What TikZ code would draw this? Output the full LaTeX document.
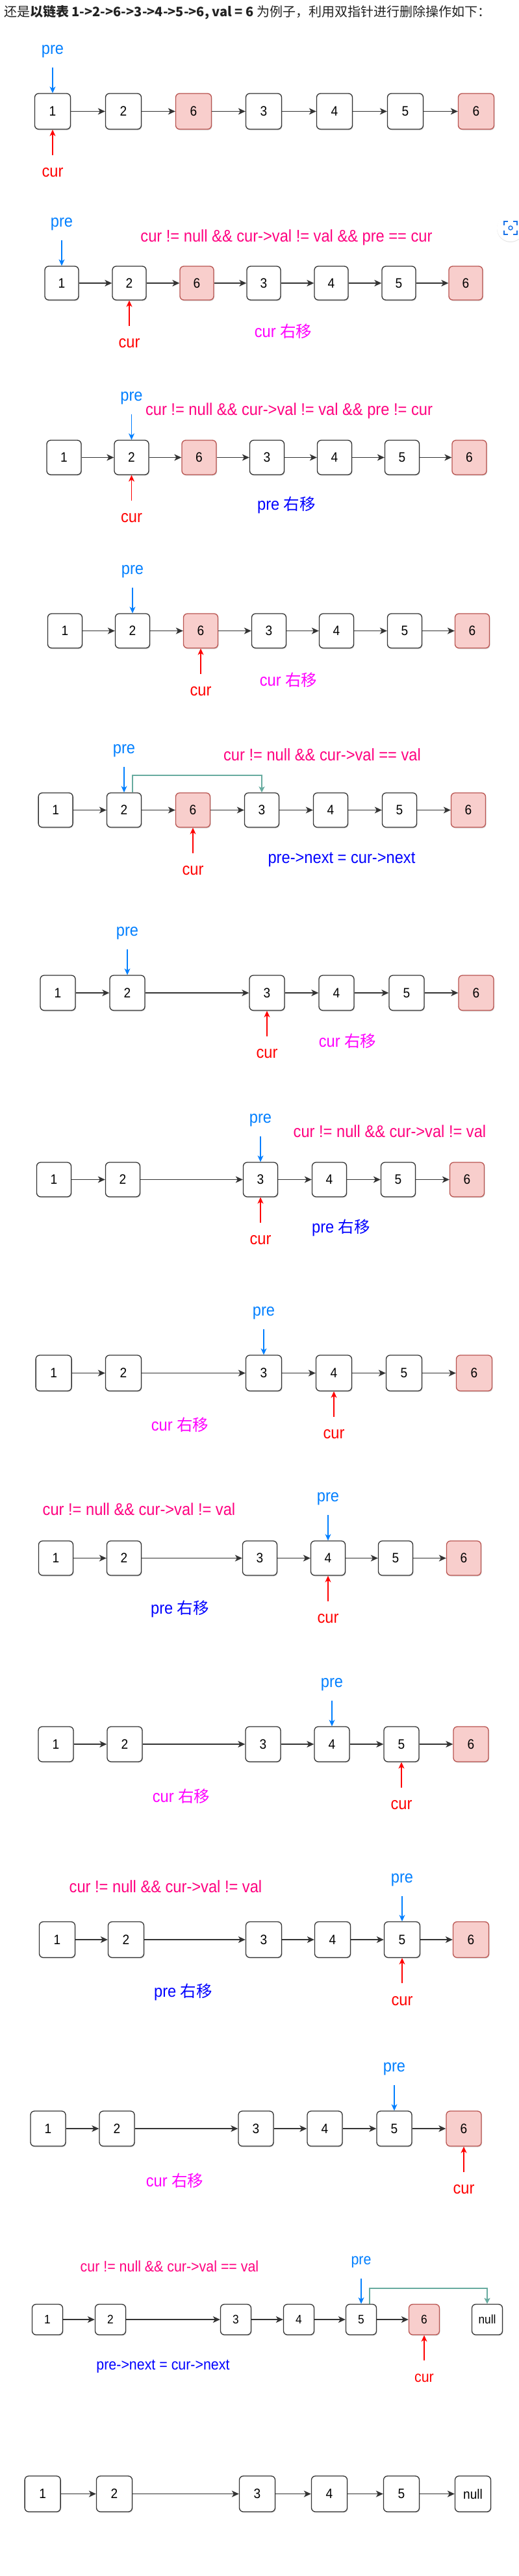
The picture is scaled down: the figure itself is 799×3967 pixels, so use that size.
\documentclass[tikz,border=0pt]{standalone}
\usepackage{fontspec}
\newfontfamily\labf{Liberation Sans}[FakeStretch=0.91]
\newfontfamily\cjk{Noto Sans CJK SC}
\usetikzlibrary{arrows.meta,shadows,calc}
\definecolor{preblue}{HTML}{007FFF}
\definecolor{curred}{HTML}{FF0000}
\definecolor{condc}{HTML}{FF0080}
\definecolor{mag}{HTML}{FF00FF}
\definecolor{pblue}{HTML}{0000FF}
\definecolor{rfill}{HTML}{F8CECC}
\definecolor{rdraw}{HTML}{B85450}
\definecolor{gline}{HTML}{67AB9F}
\definecolor{edgec}{HTML}{333333}
\definecolor{boxd}{HTML}{333333}
\definecolor{hdrc}{HTML}{222222}
\definecolor{scanc}{HTML}{1A73E8}
\newcommand\lf{\labf\fontsize{26}{30}\selectfont}
\newcommand\lfs{\labf\fontsize{23.5}{27}\selectfont}
\newcommand\nf{\labf\fontsize{21}{24}\selectfont}
\newcommand\nfs{\labf\fontsize{19}{22}\selectfont}
\newcommand\cj[1]{{\cjk\fontsize{24.5}{28}\selectfont #1}}
\newcommand\hdrf{\cjk\fontsize{20}{24}\selectfont}
\def\bs{55}
\def\nfnt{\nf}
\tikzset{
  nbox/.style={draw=boxd, fill=white, line width=1.3pt, rounded corners=6pt,
    minimum width=\bs pt, minimum height=\bs pt, inner sep=0pt, font=\nfnt, text=black,
    drop shadow={shadow xshift=1pt, shadow yshift=-1.5pt, opacity=0.25, fill=black!60}},
  rbox/.style={nbox, draw=rdraw, fill=rfill},
  link/.style={draw=edgec, line width=1.5pt, -{Stealth[length=11pt,width=10pt,inset=3pt]}},
  prearr/.style={draw=preblue, line width=1.1pt, -{Stealth[length=10pt,width=9pt,inset=3pt]}},
  curarr/.style={draw=curred, line width=1.1pt, -{Stealth[length=10pt,width=9pt,inset=3pt]}},
  gconn/.style={draw=gline, line width=1.8pt, -{Stealth[length=9pt,width=9pt,inset=2pt]}},
  prelab/.style={text=preblue, font=\lf, inner sep=0pt},
  curlab/.style={text=curred, font=\lf, inner sep=0pt},
  cond/.style={text=condc, font=\lf, inner sep=0pt},
  mvcur/.style={text=mag, font=\lf, inner sep=0pt},
  mvpre/.style={text=pblue, font=\lf, inner sep=0pt},
}
\newcommand\mkrow[4]{%
  \foreach \i/\x/\lab/\sty in {#3} {\node[\sty] (#1n\i) at (\x,#2) {\lab};}
  \foreach \a/\b in {#4} {\draw[link] (#1n\a) -- (#1n\b);}
}
\newcommand\prep[3][]{%
  \coordinate (#2ps) at ([yshift=39pt]#2n#3.north);
  \node[prelab,#1] (#2pre) at ([yshift=25pt]#2ps) {pre};
  \draw[prearr] (#2ps) -- (#2n#3.north);
}
\newcommand\curp[3][]{%
  \coordinate (#2cs) at ([yshift=-39pt]#2n#3.south);
  \node[curlab,#1] (#2cur) at ([yshift=-27pt]#2cs) {cur};
  \draw[curarr] (#2cs) -- (#2n#3.south);
}
\begin{document}
\begin{tikzpicture}[x=1pt,y=-1pt]
\useasboundingbox (0,0) rectangle (799,3967);
\fill[white] (0,0) rectangle (799,3967);

\node[anchor=west, inner sep=0pt, font=\hdrf, text=hdrc] (hdr) at (6,19)
  {还是\textbf{以链表 1->2->6->3->4->5->6, val = 6} 为例子，利用双指针进行删除操作如下：};

% scan icon overlay
\node[circle, fill=white, minimum size=42pt, inner sep=0pt,
  drop shadow={shadow xshift=0pt, shadow yshift=-1pt, opacity=0.12, fill=black}] (scan) at (786,351) {};
\draw[scanc, line width=1.6pt] ([xshift=-10pt,yshift=4pt]scan.center) |- ([xshift=-4pt,yshift=10pt]scan.center);
\draw[scanc, line width=1.6pt] ([xshift=4pt,yshift=10pt]scan.center) -| ([xshift=10pt,yshift=4pt]scan.center);
\draw[scanc, line width=1.6pt] ([xshift=-10pt,yshift=-4pt]scan.center) |- ([xshift=-4pt,yshift=-10pt]scan.center);
\draw[scanc, line width=1.6pt] ([xshift=4pt,yshift=-10pt]scan.center) -| ([xshift=10pt,yshift=-4pt]scan.center);
\draw[scanc, line width=1.4pt] (scan.center) circle (3pt);

% Row 1
\def\bs{55}
\mkrow{r1}{171.5}{1/81/1/nbox,2/190/2/nbox,3/298/6/rbox,4/406/3/nbox,5/515/4/nbox,6/624/5/nbox,7/733/6/rbox}{1/2,2/3,3/4,4/5,5/6,6/7}
\prep{r1}{1}
\curp{r1}{1}

% Row 2
\def\bs{52}
\mkrow{r2}{436}{1/95/1/nbox,2/199/2/nbox,3/303/6/rbox,4/406/3/nbox,5/510/4/nbox,6/614/5/nbox,7/717/6/rbox}{1/2,2/3,3/4,4/5,5/6,6/7}
\prep{r2}{1}
\curp{r2}{2}
\node[cond] (r2cond) at (441,366) {cur != null \&\& cur->val != val \&\& pre == cur};
\node[mvcur] (r2mv) at (436,510) {cur \cj{右移}};

% Row 3
\def\bs{53}
\mkrow{r3}{704.5}{1/98.5/1/nbox,2/202.5/2/nbox,3/306.5/6/rbox,4/411/3/nbox,5/515/4/nbox,6/619/5/nbox,7/722.5/6/rbox}{1/2,2/3,3/4,4/5,5/6,6/7}
\prep{r3}{2}
\curp{r3}{2}
\node[cond] (r3cond) at (445,633) {cur != null \&\& cur->val != val \&\& pre != cur};
\node[mvpre] (r3mv) at (441,778) {pre \cj{右移}};

% Row 4
\def\bs{53}
\mkrow{r4}{971.5}{1/100/1/nbox,2/204/2/nbox,3/309/6/rbox,4/414/3/nbox,5/518/4/nbox,6/623/5/nbox,7/727/6/rbox}{1/2,2/3,3/4,4/5,5/6,6/7}
\prep{r4}{2}
\curp{r4}{3}
\node[mvcur] (r4mv) at (444,1047) {cur \cj{右移}};

% Row 5
\def\bs{53}
\mkrow{r5}{1247.5}{1/85.6/1/nbox,2/191/2/nbox,3/297/6/rbox,4/403/3/nbox,5/509/4/nbox,6/615/5/nbox,7/721/6/rbox}{1/2,2/3,3/4,4/5,5/6,6/7}
\prep{r5}{2}
\curp{r5}{3}
\node[cond] (r5cond) at (496,1162) {cur != null \&\& cur->val == val};
\draw[gconn] ([xshift=13pt]r5n2.north) |- ([yshift=26pt]r5n4.north) -- (r5n4.north);
\node[mvpre] (r5mv) at (526,1324) {pre->next = cur->next};

% Row 6
\def\bs{54}
\mkrow{r6}{1529}{1/89/1/nbox,2/196/2/nbox,4/411/3/nbox,5/518/4/nbox,6/626/5/nbox,7/733/6/rbox}{1/2,2/4,4/5,5/6,6/7}
\prep{r6}{2}
\curp{r6}{4}
\node[mvcur] (r6mv) at (535,1603) {cur \cj{右移}};

% Row 7
\def\bs{53}
\mkrow{r7}{1816.5}{1/83/1/nbox,2/189/2/nbox,4/401/3/nbox,5/507/4/nbox,6/613/5/nbox,7/719/6/rbox}{1/2,2/4,4/5,5/6,6/7}
\prep{r7}{4}
\curp{r7}{4}
\node[cond] (r7cond) at (600,1742) {cur != null \&\& cur->val != val};
\node[mvpre] (r7mv) at (525,1891) {pre \cj{右移}};

% Row 8
\def\bs{55}
\mkrow{r8}{2114.5}{1/82.6/1/nbox,2/190/2/nbox,4/406/3/nbox,5/514/4/nbox,6/622/5/nbox,7/730/6/rbox}{1/2,2/4,4/5,5/6,6/7}
\prep{r8}{4}
\curp{r8}{5}
\node[mvcur] (r8mv) at (277,2194) {cur \cj{右移}};

% Row 9
\def\bs{53}
\mkrow{r9}{2399.5}{1/86/1/nbox,2/191/2/nbox,4/400/3/nbox,5/505/4/nbox,6/609/5/nbox,7/714/6/rbox}{1/2,2/4,4/5,5/6,6/7}
\prep{r9}{5}
\curp{r9}{5}
\node[cond] (r9cond) at (214,2324) {cur != null \&\& cur->val != val};
\node[mvpre] (r9mv) at (277,2478) {pre \cj{右移}};

% Row 10
\def\bs{54}
\mkrow{r10}{2686}{1/86/1/nbox,2/192/2/nbox,4/405/3/nbox,5/511/4/nbox,6/618/5/nbox,7/725/6/rbox}{1/2,2/4,4/5,5/6,6/7}
\prep{r10}{5}
\curp{r10}{6}
\node[mvcur] (r10mv) at (279,2766) {cur \cj{右移}};

% Row 11
\def\bs{55}
\mkrow{r11}{2987}{1/88/1/nbox,2/194/2/nbox,4/406/3/nbox,5/512/4/nbox,6/619/5/nbox,7/725/6/rbox}{1/2,2/4,4/5,5/6,6/7}
\prep{r11}{6}
\curp{r11}{6}
\node[cond] (r11cond) at (255,2905) {cur != null \&\& cur->val != val};
\node[mvpre] (r11mv) at (282,3068) {pre \cj{右移}};

% Row 12
\def\bs{54}
\mkrow{r12}{3278}{1/74/1/nbox,2/180/2/nbox,4/394/3/nbox,5/500/4/nbox,6/607/5/nbox,7/714/6/rbox}{1/2,2/4,4/5,5/6,6/7}
\prep{r12}{6}
\curp{r12}{7}
\node[mvcur] (r12mv) at (269,3358) {cur \cj{右移}};

% Row 13
\def\bs{47}
\def\nfnt{\nfs}
\mkrow{r13}{3572}{1/73/1/nbox,2/170/2/nbox,4/363/3/nbox,5/460/4/nbox,6/556/5/nbox,7/653/6/rbox,8/750/null/nbox}{1/2,2/4,4/5,5/6,6/7}
\prep[font=\lfs]{r13}{6}
\curp[font=\lfs]{r13}{7}
\node[cond, font=\lfs] (r13cond) at (261,3490) {cur != null \&\& cur->val == val};
\draw[gconn] ([xshift=13pt]r13n6.north) |- ([yshift=24pt]r13n8.north) -- (r13n8.north);
\node[mvpre, font=\lfs] (r13mv) at (251,3644) {pre->next = cur->next};

% Row 14
\def\bs{55}
\def\nfnt{\nf}
\mkrow{r14}{3840.5}{1/65.6/1/nbox,2/176/2/nbox,4/396/3/nbox,5/507/4/nbox,6/618/5/nbox,8/728/null/nbox}{1/2,2/4,4/5,5/6,6/8}
\end{tikzpicture}
\end{document}
